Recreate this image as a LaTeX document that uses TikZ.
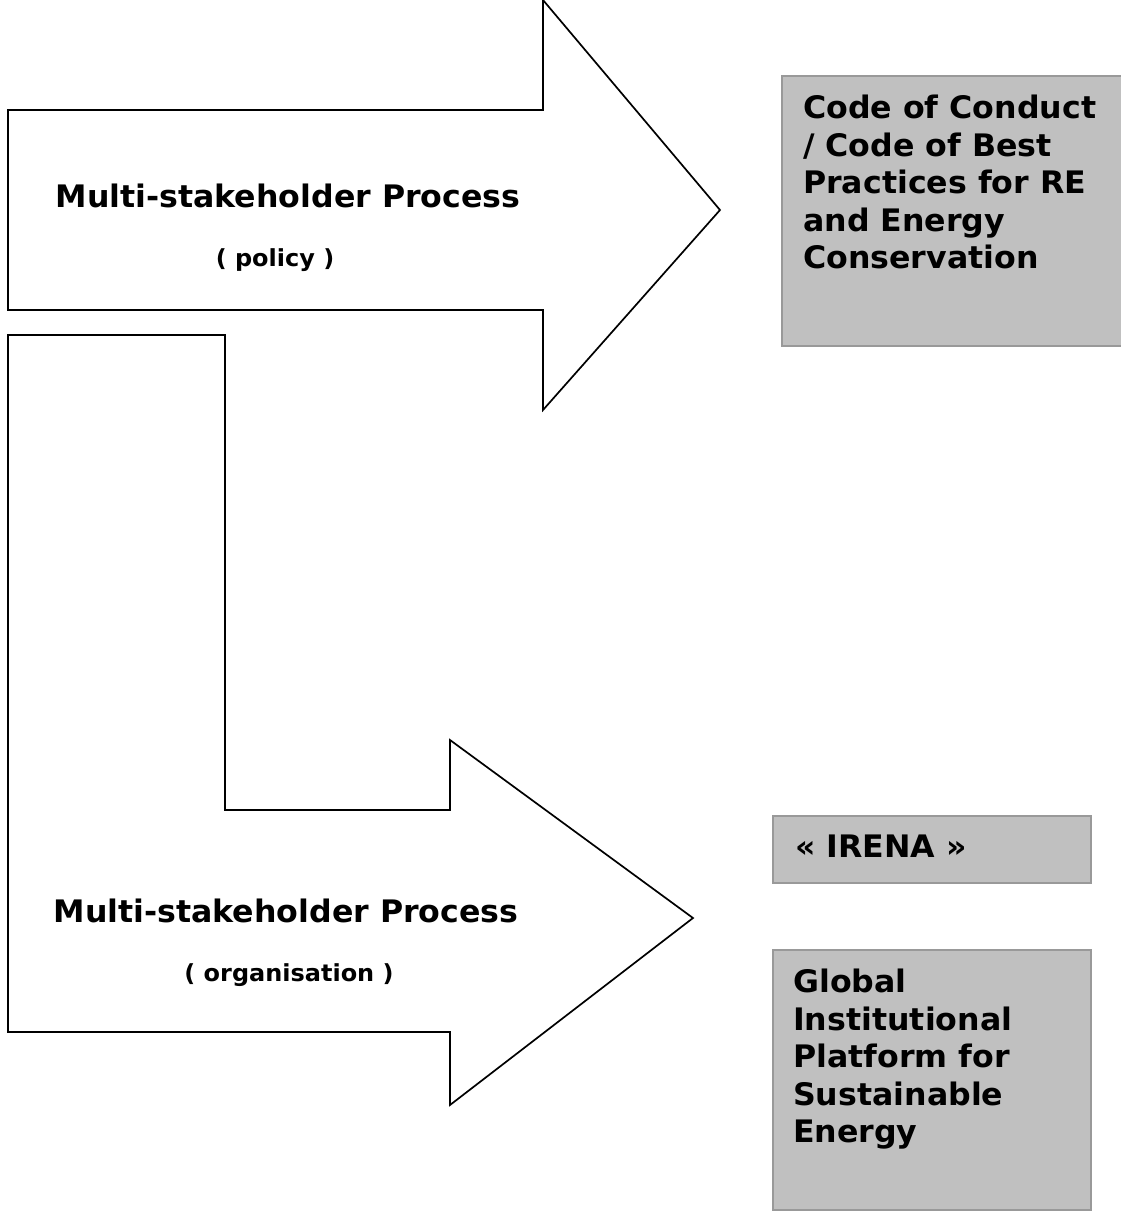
\documentclass[tikz,border=0pt]{standalone}
\usepackage{fontspec}
\setmainfont{DejaVu Sans}[FakeStretch=1.02]
\usetikzlibrary{positioning}
\definecolor{panelgrey}{HTML}{C0C0C0}
\definecolor{paneledge}{HTML}{999999}
\tikzset{x=1pt, y=-1pt,
         arrowshape/.style={draw=black, line width=1.7pt, fill=white, line join=miter},
         panel/.style={draw=paneledge, fill=panelgrey, line width=1.6pt, inner sep=0pt, anchor=north west},
         paneltext/.style={font=\bfseries\fontsize{31}{37.5}\selectfont, align=left, inner sep=0pt},
         title/.style={font=\bfseries\fontsize{31}{36}\selectfont, inner sep=0pt, anchor=base},
         subtitle/.style={font=\bfseries\fontsize{23.5}{27}\selectfont, inner sep=0pt, anchor=base}}

\begin{document}
\begin{tikzpicture}
	\useasboundingbox (0,0) rectangle (1120,1213);

	% straight arrow (policy)
	\draw[arrowshape] (8,110) -- (543,110) -- (543,0) -- (720,210)
		-- (543,410) -- (543,310) -- (8,310) -- cycle;
	% bent arrow (organisation)
	\draw[arrowshape] (8,335) -- (225,335) -- (225,810) -- (450,810) -- (450,740)
		-- (693,918) -- (450,1105) -- (450,1032) -- (8,1032) -- cycle;

	\node[title]    (policy)    at (288,207) {Multi-stakeholder Process};
	\node[subtitle] (policysub) at (275,266) {( policy )};
	\node[title]    (orga)      at (286,922) {Multi-stakeholder Process};
	\node[subtitle] (orgasub)   at (289,981) {( organisation )};

	% outcome panels
	\node[panel, minimum width=345pt, minimum height=270pt] (codebox)  at (781,75)  {};
	\node[panel, minimum width=318pt, minimum height=67pt]  (irenabox) at (772,815) {};
	\node[panel, minimum width=318pt, minimum height=260pt] (globbox)  at (772,949) {};

	\node[paneltext, below right=20pt and 22pt of codebox.north west] (code)
		{Code of Conduct\\/ Code of Best\\Practices for RE\\and Energy\\Conservation};
	\node[paneltext, below right=20pt and 23pt of irenabox.north west] (irena)
		{« IRENA »};
	\node[paneltext, below right=20pt and 21pt of globbox.north west] (glob)
		{Global\\Institutional\\Platform for\\Sustainable\\Energy};
\end{tikzpicture}
\end{document}
